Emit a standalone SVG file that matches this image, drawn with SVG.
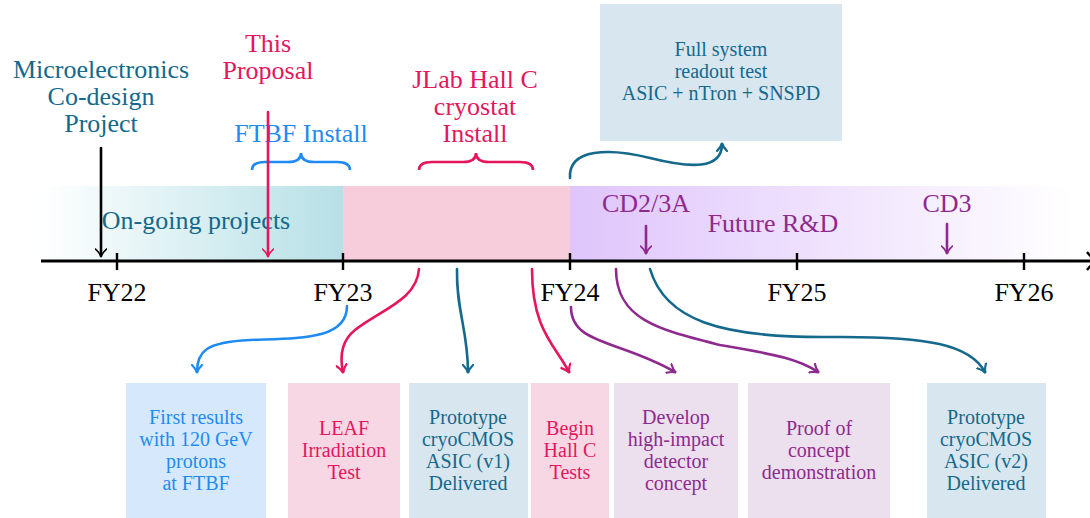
<svg xmlns="http://www.w3.org/2000/svg" width="1090" height="518" viewBox="0 0 1090 518">
<defs>
<linearGradient id="gTeal" x1="41" y1="0" x2="343" y2="0" gradientUnits="userSpaceOnUse">
<stop offset="0" stop-color="#ffffff"/><stop offset="1" stop-color="#b6e0e6"/>
</linearGradient>
<linearGradient id="gPurp" x1="570" y1="0" x2="1075" y2="0" gradientUnits="userSpaceOnUse">
<stop offset="0" stop-color="#dfc5fb"/><stop offset="1" stop-color="#ffffff"/>
</linearGradient>
<marker id="ah" viewBox="-8 -6 10 12" markerWidth="10" markerHeight="12" refX="0" refY="0" orient="auto" markerUnits="userSpaceOnUse">
<path d="M-7,-5 C-4,-2 -1,-0.5 1,0 C-1,0.5 -4,2 -7,5" fill="none" stroke="context-stroke" stroke-width="2.2" stroke-linecap="round"/>
</marker>
<marker id="ahThin" viewBox="-8 -6 10 12" markerWidth="10" markerHeight="12" refX="0" refY="0" orient="auto" markerUnits="userSpaceOnUse">
<path d="M-7,-5.5 C-4,-2 -1,-0.5 1,0 C-1,0.5 -4,2 -7,5.5" fill="none" stroke="context-stroke" stroke-width="1.6" stroke-linecap="round"/>
</marker>
</defs>
<style>
text{font-family:"Liberation Serif","Times New Roman",serif;text-anchor:middle}
.big{font-size:26px}
.sm{font-size:20px}
.teal{fill:#14698c}.pink{fill:#e5165e}.blue{fill:#1f8bf2}.purp{fill:#8e2a8e}.blk{fill:#000}
.c{fill:none;stroke-width:2.6;stroke-linecap:round}
.box-blue{fill:#d6e9fc}.box-pink{fill:#f8d7e4}.box-teal{fill:#d8e6ef}.box-purp{fill:#ecdfee}
</style>
<rect width="1090" height="518" fill="#ffffff"/>
<g id="bands">
<rect x="41" y="186" width="302" height="75" fill="url(#gTeal)"/>
<rect x="343" y="186" width="227" height="75" fill="#f7cddc"/>
<rect x="570" y="186" width="520" height="75" fill="url(#gPurp)"/>
</g>
<g id="axis">
<path d="M41,261 L1092,261" stroke="#000" stroke-width="3"/>
<path d="M1087,252 C1091,257 1094,260 1098,261 C1094,262 1091,265 1087,270" fill="none" stroke="#000" stroke-width="2.4"/>
<path d="M117,253 V270 M343,253 V270 M570,253 V270 M797,253 V270 M1024,253 V270" stroke="#000" stroke-width="2.4"/>
<text class="big blk" x="117" y="301">FY22</text>
<text class="big blk" x="343" y="301">FY23</text>
<text class="big blk" x="570" y="301">FY24</text>
<text class="big blk" x="797" y="301">FY25</text>
<text class="big blk" x="1024" y="301">FY26</text>
</g>
<g id="band-labels">
<text class="big teal" x="196" y="229">On-going projects</text>
<text class="big purp" x="646" y="212">CD2/3A</text>
<text class="big purp" x="773" y="232">Future R&amp;D</text>
<text class="big purp" x="947" y="212">CD3</text>
</g>
<g id="top-labels">
<g id="microelectronics">
<text class="big teal" x="101" y="78">Microelectronics</text>
<text class="big teal" x="101" y="105">Co-design</text>
<text class="big teal" x="101" y="132">Project</text>
</g>
<g id="this-proposal">
<text class="big pink" x="268" y="52">This</text>
<text class="big pink" x="268" y="79">Proposal</text>
</g>
<g id="ftbf-install">
<text class="big blue" x="301" y="142">FTBF Install</text>
<path d="M252,170 Q252,162 265,162 L288,162 Q301,162 301,153 Q301,162 314,162 L337,162 Q350,162 350,170" fill="none" stroke="#1f8bf2" stroke-width="2.6"/>
</g>
<g id="jlab-install">
<text class="big pink" x="475" y="88">JLab Hall C</text>
<text class="big pink" x="475" y="115">cryostat</text>
<text class="big pink" x="475" y="142">Install</text>
<path d="M419,170 Q419,162 432,162 L463,162 Q476,162 476,153 Q476,162 489,162 L520,162 Q533,162 533,170" fill="none" stroke="#e5165e" stroke-width="2.6"/>
</g>
</g>
<g id="full-system">
<rect class="box-teal" x="600" y="4" width="242" height="137"/>
<text class="sm teal" x="721" y="56">Full system</text>
<text class="sm teal" x="721" y="78">readout test</text>
<text class="sm teal" x="721" y="100">ASIC + nTron + SNSPD</text>
</g>
<g id="n-first-results">
<rect class="box-blue" x="126" y="383" width="140" height="135"/>
<text class="sm blue" x="196" y="424">First results</text>
<text class="sm blue" x="196" y="446">with 120 GeV</text>
<text class="sm blue" x="196" y="468">protons</text>
<text class="sm blue" x="196" y="490">at FTBF</text>
</g>
<g id="n-leaf">
<rect class="box-pink" x="288" y="383" width="112" height="135"/>
<text class="sm pink" x="344" y="435">LEAF</text>
<text class="sm pink" x="344" y="457">Irradiation</text>
<text class="sm pink" x="344" y="479">Test</text>
</g>
<g id="n-asic-v1">
<rect class="box-teal" x="409" y="383" width="119" height="135"/>
<text class="sm teal" x="468" y="424">Prototype</text>
<text class="sm teal" x="468" y="446">cryoCMOS</text>
<text class="sm teal" x="468" y="468">ASIC (v1)</text>
<text class="sm teal" x="468" y="490">Delivered</text>
</g>
<g id="n-hallc">
<rect class="box-pink" x="531" y="383" width="78" height="135"/>
<text class="sm pink" x="570" y="435">Begin</text>
<text class="sm pink" x="570" y="457">Hall C</text>
<text class="sm pink" x="570" y="479">Tests</text>
</g>
<g id="n-develop">
<rect class="box-purp" x="614" y="383" width="124" height="135"/>
<text class="sm purp" x="676" y="424">Develop</text>
<text class="sm purp" x="676" y="446">high-impact</text>
<text class="sm purp" x="676" y="468">detector</text>
<text class="sm purp" x="676" y="490">concept</text>
</g>
<g id="n-proof">
<rect class="box-purp" x="748" y="383" width="142" height="135"/>
<text class="sm purp" x="819" y="435">Proof of</text>
<text class="sm purp" x="819" y="457">concept</text>
<text class="sm purp" x="819" y="479">demonstration</text>
</g>
<g id="n-asic-v2">
<rect class="box-teal" x="927" y="383" width="119" height="135"/>
<text class="sm teal" x="986" y="424">Prototype</text>
<text class="sm teal" x="986" y="446">cryoCMOS</text>
<text class="sm teal" x="986" y="468">ASIC (v2)</text>
<text class="sm teal" x="986" y="490">Delivered</text>
</g>
<g id="connectors">
<path class="c" d="M101,148 L101,256" stroke="#000" stroke-width="2" marker-end="url(#ahThin)"/>
<path class="c" d="M268,112 L268,256" stroke="#e5165e" stroke-width="2" marker-end="url(#ahThin)"/>
<path class="c" d="M646,226 L646,253" stroke="#8e2a8e" stroke-width="1.6" marker-end="url(#ahThin)"/>
<path class="c" d="M947,224 L947,253" stroke="#8e2a8e" stroke-width="1.6" marker-end="url(#ahThin)"/>
<path class="c" d="M570,178 C568,148 610,148 650,158 C690,168 722,170 722,144" stroke="#14698c" marker-end="url(#ah)"/>
<path class="c" d="M347,306 C347,340 300,338 250,340 C205,342 197,352 197,372" stroke="#1f8bf2" marker-end="url(#ah)"/>
<path class="c" d="M419,269 C417,300 380,310 355,330 C340,342 340,358 343,372" stroke="#e5165e" marker-end="url(#ah)"/>
<path class="c" d="M457,269 C456,310 468,330 468,372" stroke="#14698c" marker-end="url(#ah)"/>
<path class="c" d="M532,269 C532,330 555,345 569,372" stroke="#e5165e" marker-end="url(#ah)"/>
<path class="c" d="M571,307 C571,345 620,340 675,372" stroke="#8e2a8e" marker-end="url(#ah)"/>
<path class="c" d="M616,269 C616,320 660,330 720,345 C780,355 800,360 818,372" stroke="#8e2a8e" marker-end="url(#ah)"/>
<path class="c" d="M650,269 C665,320 720,338 830,337 C930,336 970,345 985,372" stroke="#14698c" marker-end="url(#ah)"/>
</g>
</svg>
